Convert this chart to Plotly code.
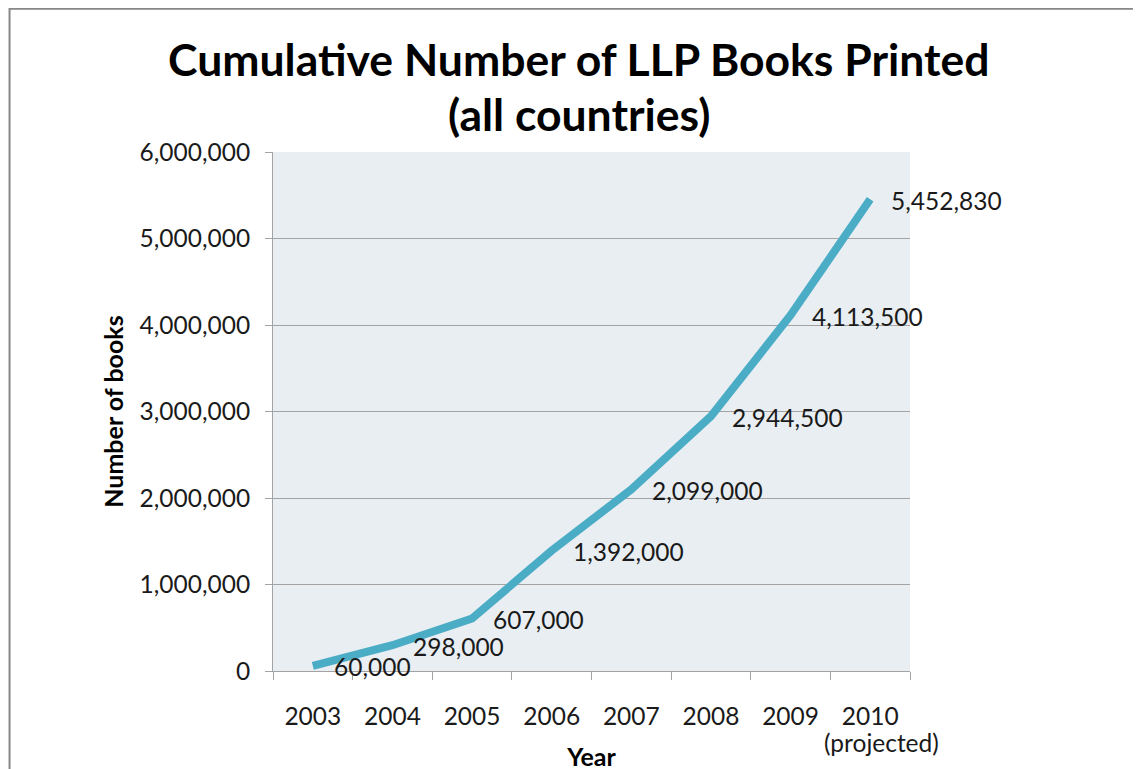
import plotly.graph_objects as go

years = ["2003", "2004", "2005", "2006", "2007", "2008", "2009", "2010"]
books = [60000, 298000, 607000, 1392000, 2099000, 2944500, 4113500, 5452830]
labels = ["60,000", "298,000", "607,000", "1,392,000", "2,099,000", "2,944,500", "4,113,500", "5,452,830"]
y_ticks = [0, 1000000, 2000000, 3000000, 4000000, 5000000, 6000000]
projected_note = "(projected)"
title_lines = ["Cumulative Number of LLP Books Printed", "(all countries)"]

FONT = "Lato"
LINE_COLOR = "#4BACC6"
GRID = "#A3A3A3"
TXT = "#1a1a1a"

fig = go.Figure()
fig.add_trace(go.Scatter(
    x=years, y=books, mode="lines",
    line=dict(color=LINE_COLOR, width=8),
    showlegend=False, hoverinfo="x+y",
))

for i, (v, t) in enumerate(zip(books, labels)):
    fig.add_annotation(x=i, y=v, text=t, showarrow=False, xanchor="left",
                       yanchor="middle", xshift=19, yshift=-1,
                       font=dict(family=FONT, size=24.5, color=TXT))

fig.add_annotation(x=len(years) - 1, y=0, yref="paper", text=projected_note, showarrow=False,
                   xanchor="center", yanchor="middle", xshift=11, yshift=-71,
                   font=dict(family=FONT, size=24.5, color=TXT))

for line, ypos in zip(title_lines, [1.1795, 1.0745]):
    fig.add_annotation(x=0.480, xref="paper", y=ypos, yref="paper",
                       text="<b>" + line + "</b>",
                       showarrow=False, xanchor="center", yanchor="middle",
                       font=dict(family=FONT, size=44.5, color="black"))

fig.add_shape(type="rect", xref="paper", yref="paper",
              x0=-0.4136, x1=1.40, y0=-0.25, y1=1.2760,
              line=dict(color="#878787", width=2), fillcolor="rgba(0,0,0,0)", layer="above")

fig.update_layout(
    width=1141, height=769,
    margin=dict(l=265, r=239, t=144, b=106),
    paper_bgcolor="white", plot_bgcolor="#E8EEF2",
    font=dict(family=FONT, color=TXT),
)
fig.update_xaxes(
    type="category", categoryorder="array", categoryarray=years,
    range=[-0.5, len(years) - 0.5], automargin=False,
    tickson="boundaries", ticks="outside", ticklen=8, tickcolor=GRID,
    showline=True, linecolor=GRID, linewidth=1, showgrid=False,
    tickfont=dict(family=FONT, size=24.5, color=TXT), ticklabelstandoff=24,
    title=dict(text="<b>Year</b>", font=dict(family=FONT, size=25, color="black"), standoff=19),
)
fig.update_yaxes(
    range=[0, 6000000], tickvals=y_ticks, tickformat=",", ticks="outside", ticklen=7,
    tickcolor=GRID, showline=True, linecolor=GRID, linewidth=1, automargin=False,
    showgrid=True, gridcolor=GRID, gridwidth=1, zeroline=False,
    tickfont=dict(family=FONT, size=24.5, color=TXT), ticklabelstandoff=10,
    title=dict(text="<b>Number of books</b>", font=dict(family=FONT, size=25, color="black"), standoff=8),
)

fig.write_html("out.html")
